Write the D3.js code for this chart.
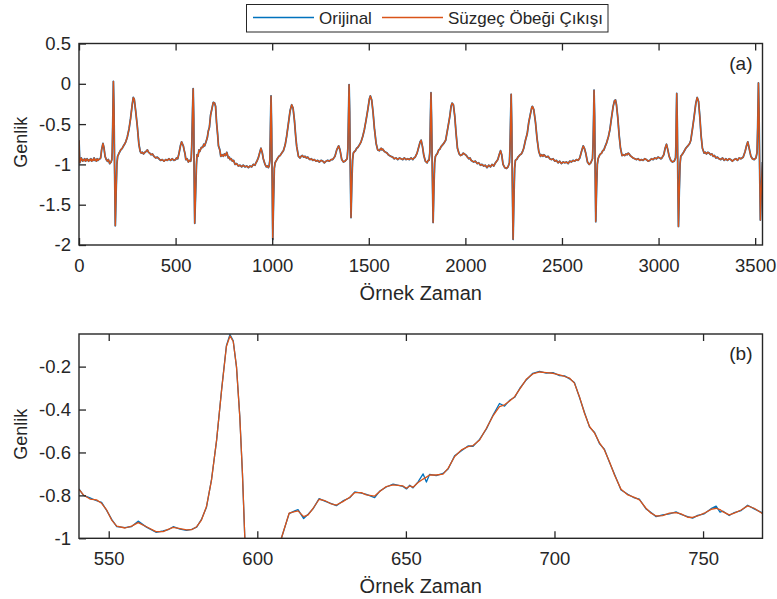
<!DOCTYPE html>
<html>
<head>
<meta charset="utf-8">
<script src="https://cdn.jsdelivr.net/npm/d3@7"></script>
<style>
  body { margin: 0; background: #fff; }
  svg { display: block; }
  text { font-family: "Liberation Sans", Arial, sans-serif; fill: #262626; }
</style>
</head>
<body>
<svg id="chart" width="777" height="599"></svg>
<script>
// Panel (a): full record, [sample, amplitude]
const ecgFull = [
  [0,-0.70],[4,-0.98],[8,-0.95],[12,-0.92],[15,-0.94],[19,-0.96],[22,-0.94],[26,-0.95],[30,-0.93],
  [34,-0.96],[38,-0.95],[42,-0.93],[46,-0.95],[50,-0.96],[54,-0.94],[58,-0.95],[62,-0.93],[66,-0.96],
  [70,-0.94],[74,-0.95],[78,-0.92],[82,-0.95],[86,-0.94],[90,-0.96],[94,-0.93],[98,-0.95],[102,-0.94],
  [108,-0.93],[112,-0.92],
  [117,-0.82],[124,-0.74],[129,-0.79],[135,-0.90],[141,-0.94],[147,-0.96],[152,-0.94],[159,-0.99],[166,-0.97],
  [170,-0.94],[172,-0.85],[175,-0.45],[178,0.03],[181,-0.30],[184,-1.00],[188,-1.76],[192,-1.35],
  [196,-1.00],[200,-0.90],[204,-0.88],[207,-0.86],[212,-0.84],[216,-0.82],[220,-0.81],[224,-0.80],
  [228,-0.78],[233,-0.76],[238,-0.74],[242,-0.72],[246,-0.69],[250,-0.66],
  [259,-0.56],[267,-0.43],[276,-0.25],[281,-0.17],[286,-0.19],[293,-0.33],[302,-0.53],[310,-0.75],
  [317,-0.84],[322,-0.86],[328,-0.85],[334,-0.87],[341,-0.85],[347,-0.84],[354,-0.82],[360,-0.85],
  [366,-0.86],[373,-0.88],[380,-0.87],[388,-0.90],[397,-0.92],[405,-0.91],[414,-0.93],[422,-0.95],
  [431,-0.94],[440,-0.96],[449,-0.94],[457,-0.95],[466,-0.93],[474,-0.95],[483,-0.93],[491,-0.95],
  [500,-0.94],[505,-0.92],[511,-0.93],[518,-0.86],[525,-0.77],
  [531,-0.72],[536,-0.75],[540,-0.77],[544,-0.82],[549,-0.87],[553,-0.94],[558,-0.94],[560,-0.93],
  [566,-0.97],[572,-0.95],[578,-0.96],[581,-0.92],[584,-0.75],[588,-0.31],[591,-0.06],[594,-0.43],
  [596,-1.10],[599,-1.73],[603,-1.40],[608,-1.00],[611,-0.88],[616,-0.90],[621,-0.82],[625,-0.84],
  [633,-0.79],[640,-0.79],[646,-0.75],[650,-0.77],[656,-0.73],[664,-0.67],[669,-0.59],[675,-0.54],
  [681,-0.39],[688,-0.31],[695,-0.23],[702,-0.24],[707,-0.28],[712,-0.48],[718,-0.64],[722,-0.77],
  [729,-0.82],[734,-0.90],[741,-0.88],[747,-0.90],[753,-0.87],[759,-0.89],[765,-0.85],[773,-0.92],
  [778,-0.91],[782,-0.94],[788,-0.93],[794,-0.96],[800,-0.95],[808,-1.00],[816,-0.99],[825,-1.02],
  [833,-1.01],[842,-1.03],[850,-1.01],[859,-1.03],[868,-1.02],[877,-1.04],[885,-1.02],[894,-1.03],
  [902,-1.00],[911,-1.01],[916,-0.98],[921,-0.96],[928,-0.92],[937,-0.84],[942,-0.80],[949,-0.86],[954,-0.93],[963,-1.00],
  [970,-1.03],[975,-1.02],[980,-1.04],[984,-1.02],[988,-0.95],[991,-0.55],[994,-0.15],[997,-0.55],[1000,-1.20],
  [1003,-1.93],[1007,-1.45],[1011,-1.05],[1015,-0.98],[1022,-0.95],[1029,-0.92],[1035,-0.90],[1041,-0.89],
  [1049,-0.86],[1058,-0.83],[1067,-0.76],[1075,-0.65],[1084,-0.49],[1093,-0.33],[1101,-0.26],
  [1108,-0.30],[1115,-0.45],[1122,-0.66],[1127,-0.78],[1136,-0.90],[1144,-0.92],[1150,-0.90],[1156,-0.89],
  [1163,-0.91],[1170,-0.90],[1177,-0.92],[1184,-0.91],[1190,-0.93],[1196,-0.94],[1203,-0.93],[1210,-0.95],
  [1218,-0.94],[1227,-0.96],[1235,-0.95],[1244,-0.97],[1253,-0.95],[1262,-0.96],[1270,-0.98],
  [1279,-0.96],[1287,-0.95],[1296,-0.96],[1305,-0.94],[1313,-0.94],[1319,-0.92],[1325,-0.90],[1334,-0.82],[1344,-0.77],[1351,-0.82],
  [1360,-0.94],[1369,-0.97],[1377,-0.96],[1388,-0.93],[1392,-0.80],[1395,-0.40],[1398,-0.01],
  [1401,-0.35],[1404,-1.00],[1408,-1.66],[1412,-1.25],[1416,-0.95],[1420,-0.86],[1426,-0.84],[1431,-0.83],
  [1437,-0.80],[1443,-0.79],[1451,-0.76],[1460,-0.72],[1469,-0.65],[1477,-0.57],[1486,-0.45],[1495,-0.32],
  [1503,-0.19],[1508,-0.15],[1515,-0.20],[1522,-0.35],[1529,-0.55],[1538,-0.74],[1546,-0.82],
  [1555,-0.83],[1560,-0.81],[1564,-0.80],[1568,-0.82],[1572,-0.81],[1581,-0.84],[1588,-0.85],[1595,-0.86],
  [1601,-0.88],[1607,-0.89],[1615,-0.90],[1624,-0.91],[1632,-0.93],[1641,-0.92],[1650,-0.94],[1659,-0.92],
  [1667,-0.93],[1676,-0.94],[1684,-0.92],[1693,-0.94],[1701,-0.93],[1710,-0.94],[1719,-0.92],[1728,-0.94],
  [1734,-0.92],[1740,-0.91],
  [1750,-0.86],[1759,-0.78],[1766,-0.72],[1771,-0.70],[1778,-0.78],[1785,-0.89],[1793,-0.96],
  [1802,-0.98],[1807,-0.95],[1812,-0.95],[1816,-0.85],[1819,-0.45],[1822,-0.11],[1825,-0.45],
  [1829,-1.10],[1833,-1.72],[1837,-1.30],[1841,-0.98],[1845,-0.90],[1850,-0.88],[1854,-0.87],[1862,-0.82],
  [1868,-0.81],[1874,-0.78],[1881,-0.76],[1888,-0.74],[1898,-0.70],[1909,-0.55],[1919,-0.41],[1926,-0.28],[1931,-0.24],
  [1938,-0.26],[1945,-0.40],[1952,-0.62],[1959,-0.80],[1968,-0.87],[1975,-0.89],[1983,-0.88],[1989,-0.86],[1995,-0.87],
  [2005,-0.89],[2011,-0.91],[2018,-0.93],[2024,-0.92],[2030,-0.95],[2037,-0.96],[2043,-0.97],[2052,-0.96],
  [2061,-0.99],[2069,-0.98],[2078,-1.01],[2086,-1.00],[2095,-1.02],[2103,-1.01],[2112,-1.04],[2121,-1.01],
  [2130,-1.03],[2138,-1.00],[2147,-1.02],[2153,-0.99],[2159,-0.97],[2168,-0.94],[2175,-0.88],[2182,-0.83],
  [2188,-0.88],[2195,-1.00],[2204,-1.04],[2213,-1.05],[2221,-1.03],[2228,-0.98],[2231,-0.80],
  [2234,-0.45],[2237,-0.13],[2240,-0.50],[2243,-1.20],[2247,-1.93],[2251,-1.45],[2255,-1.05],
  [2259,-0.95],[2264,-0.94],[2268,-0.93],[2272,-0.91],[2276,-0.90],[2283,-0.88],[2290,-0.87],[2296,-0.84],
  [2302,-0.80],[2311,-0.70],[2320,-0.62],
  [2328,-0.48],[2337,-0.37],[2344,-0.29],[2347,-0.28],[2354,-0.32],[2363,-0.48],[2371,-0.68],
  [2380,-0.84],[2389,-0.90],[2395,-0.88],[2401,-0.90],[2406,-0.88],[2411,-0.89],[2419,-0.91],[2428,-0.90],
  [2437,-0.93],[2446,-0.94],[2454,-0.93],[2463,-0.96],[2471,-0.95],[2480,-0.98],[2488,-0.96],[2497,-0.99],
  [2506,-0.97],[2515,-0.98],[2523,-0.97],[2532,-0.99],[2540,-0.96],[2549,-0.97],[2557,-0.95],[2566,-0.96],
  [2575,-0.94],[2584,-0.95],
  [2592,-0.92],[2601,-0.84],[2610,-0.77],[2616,-0.80],[2623,-0.86],[2632,-0.97],[2641,-1.00],
  [2649,-0.98],[2658,-0.93],[2661,-0.75],[2664,-0.40],[2666,-0.08],[2669,-0.40],[2672,-1.10],
  [2675,-1.71],[2679,-1.30],[2683,-1.00],[2687,-0.93],[2692,-0.90],[2696,-0.88],[2700,-0.87],[2705,-0.86],
  [2711,-0.83],[2717,-0.82],[2723,-0.78],[2730,-0.74],[2741,-0.65],[2748,-0.57],[2756,-0.43],[2765,-0.28],[2772,-0.21],[2777,-0.20],
  [2782,-0.26],[2789,-0.42],[2796,-0.64],[2803,-0.80],[2811,-0.89],[2818,-0.88],[2825,-0.89],[2831,-0.87],[2837,-0.88],
  [2843,-0.86],[2848,-0.87],[2853,-0.89],[2858,-0.90],[2863,-0.91],[2868,-0.92],[2877,-0.93],[2886,-0.94],
  [2894,-0.93],[2903,-0.95],[2911,-0.94],[2920,-0.95],[2928,-0.93],[2937,-0.94],[2946,-0.96],
  [2955,-0.95],[2963,-0.93],[2972,-0.94],[2980,-0.92],[2989,-0.93],[2997,-0.91],[3006,-0.92],[3012,-0.93],[3017,-0.92],[3022,-0.90],[3027,-0.88],[3034,-0.80],
  [3041,-0.75],[3048,-0.82],[3055,-0.90],[3063,-0.95],[3072,-0.97],[3081,-0.96],[3088,-0.92],
  [3090,-0.75],[3092,-0.40],[3094,-0.12],[3097,-0.50],[3100,-1.20],[3103,-1.77],[3107,-1.35],
  [3111,-1.00],[3115,-0.90],[3121,-0.88],[3127,-0.86],[3134,-0.83],[3141,-0.80],[3148,-0.78],[3155,-0.76],
  [3161,-0.74],[3167,-0.70],[3176,-0.55],
  [3184,-0.41],[3193,-0.24],[3200,-0.17],[3207,-0.22],[3214,-0.42],[3220,-0.64],[3227,-0.80],
  [3236,-0.86],[3242,-0.85],[3248,-0.87],[3255,-0.85],[3262,-0.86],[3269,-0.88],[3276,-0.87],[3283,-0.90],
  [3289,-0.89],[3297,-0.92],[3305,-0.91],[3313,-0.93],[3322,-0.94],[3331,-0.92],[3340,-0.95],[3348,-0.93],
  [3357,-0.95],[3365,-0.93],[3374,-0.94],[3382,-0.96],[3391,-0.94],[3400,-0.93],[3409,-0.95],[3417,-0.92],
  [3426,-0.93],[3432,-0.92],[3438,-0.91],
  [3448,-0.84],[3455,-0.77],[3462,-0.72],[3469,-0.80],[3478,-0.90],[3486,-0.93],[3495,-0.94],
  [3504,-0.92],[3510,-0.85],[3513,-0.55],[3517,0.01],[3520,-0.35],[3523,-1.00],[3527,-1.69],
  [3532,-1.30],[3538,-0.97]
]

// Panel (b): zoom on samples 540..770
const zoomSample = [
  540,541.5,543.7,545.9,547.6,549.3,551,552.7,555.5,557.7,559.9,562.7,565.9,568.3,570,571.7,574,
  576.2,577.9,579.6,581.2,582.9,584.6,586.3,588,589.6,590.8,591.9,593,594.1,595,595.8,597,599,601,
  603,605,607,608.1,610.7,612.6,613.7,615.6,617.1,618.8,620.8,622.7,624.9,626.6,628.8,631.1,632.8,
  635,636.7,639.5,641.2,643.4,645.7,649,650.2,651.3,652.4,654.1,655.8,656.9,658,660.2,662.5,664.2,
  666.4,668.7,670.9,672.6,674.8,677.1,679.3,681.5,683.2,684.9,686.6,688.3,690.5,692.7,695,697.2,
  699.5,701.7,703.4,705.1,706.7,708.4,710.1,711.8,713.5,715.2,716.8,718.5,720.2,722.4,724.7,726.9,
  728.6,730.8,732.5,734.2,736.4,738.7,740.9,742.6,744.8,746.5,748.2,750.4,752.7,754.4,755.7,756.6,
  758.8,760.5,762.8,765,767.2,769.8,770
]
const zoomFiltered = [
  -0.772,-0.798,-0.817,-0.821,-0.837,-0.868,-0.915,-0.943,-0.952,-0.943,-0.927,-0.946,-0.969,-0.969,
  -0.958,-0.949,-0.955,-0.961,-0.960,-0.946,-0.915,-0.852,-0.728,-0.542,-0.308,-0.106,-0.057,-0.083,
  -0.200,-0.433,-0.697,-1.000,-1.350,-1.730,-1.600,-1.400,-1.250,-1.080,-1.000,-0.883,-0.876,-0.872,
  -0.899,-0.891,-0.860,-0.818,-0.824,-0.840,-0.845,-0.829,-0.809,-0.787,-0.787,-0.798,-0.803,-0.782,
  -0.759,-0.751,-0.756,-0.767,-0.756,-0.762,-0.740,-0.724,-0.715,-0.705,-0.705,-0.701,-0.674,-0.619,
  -0.588,-0.573,-0.568,-0.542,-0.487,-0.430,-0.386,-0.378,-0.360,-0.340,-0.305,-0.259,-0.234,-0.225,
  -0.228,-0.231,-0.239,-0.246,-0.254,-0.277,-0.340,-0.417,-0.479,-0.510,-0.557,-0.588,-0.643,-0.705,
  -0.772,-0.798,-0.809,-0.821,-0.860,-0.883,-0.896,-0.894,-0.883,-0.880,-0.886,-0.902,-0.903,-0.896,
  -0.883,-0.865,-0.860,-0.866,-0.876,-0.891,-0.883,-0.868,-0.849,-0.860,-0.883,-0.885
]
const zoomOriginal = [
  -0.770,-0.800,-0.812,-0.825,-0.833,-0.870,-0.912,-0.946,-0.950,-0.945,-0.920,-0.948,-0.972,-0.966,
  -0.960,-0.946,-0.957,-0.963,-0.958,-0.948,-0.912,-0.855,-0.725,-0.545,-0.305,-0.103,-0.050,-0.080,
  -0.203,-0.430,-0.700,-1.000,-1.350,-1.740,-1.600,-1.400,-1.250,-1.080,-1.000,-0.885,-0.872,-0.866,
  -0.908,-0.888,-0.862,-0.815,-0.827,-0.838,-0.848,-0.826,-0.811,-0.784,-0.790,-0.795,-0.810,-0.780,
  -0.761,-0.748,-0.758,-0.770,-0.753,-0.765,-0.737,-0.700,-0.738,-0.702,-0.708,-0.698,-0.677,-0.616,
  -0.592,-0.570,-0.571,-0.539,-0.490,-0.427,-0.372,-0.384,-0.357,-0.343,-0.302,-0.262,-0.231,-0.222,
  -0.230,-0.228,-0.242,-0.243,-0.257,-0.274,-0.343,-0.414,-0.482,-0.507,-0.560,-0.585,-0.646,-0.702,
  -0.775,-0.795,-0.812,-0.818,-0.863,-0.880,-0.899,-0.891,-0.886,-0.877,-0.889,-0.899,-0.906,-0.893,
  -0.886,-0.862,-0.850,-0.878,-0.873,-0.894,-0.880,-0.871,-0.846,-0.863,-0.880,-0.886
]

const legendLabels = ["Orijinal", "Süzgeç Öbeği Çıkışı"]
const colors = ["#0072BD", "#D95319"]

const ticksA_x = [0, 500, 1000, 1500, 2000, 2500, 3000, 3500]
const ticksA_y = [0.5, 0, -0.5, -1, -1.5, -2]
const ticksB_x = [550, 600, 650, 700, 750]
const ticksB_y = [-1, -0.8, -0.6, -0.4, -0.2]

const ink = "#262626"
const svg = d3.select("#chart")

function drawPanel(opts) {
  const {top, bottom, left, right, xDomain, yDomain, xTicks, yTicks, series, tag, id} = opts

  const x = d3.scaleLinear().domain(xDomain).range([left, right])
  const y = d3.scaleLinear().domain(yDomain).range([bottom, top])

  svg.append("clipPath")
      .attr("id", id)
    .append("rect")
      .attr("x", left)
      .attr("y", top)
      .attr("width", right - left)
      .attr("height", bottom - top)

  const line = d3.line()
      .x(d => x(d[0]))
      .y(d => y(d[1]))

  const plot = svg.append("g").attr("clip-path", `url(#${id})`)
  series.forEach(s => {
    plot.append("path")
        .datum(s.data)
        .attr("d", line)
        .attr("fill", "none")
        .attr("stroke", s.color)
        .attr("stroke-width", s.width)
        .attr("stroke-linejoin", "round")
  })

  // ticks point inward, mirrored on the top edge
  const styleAxis = g => {
    g.select(".domain").remove()
    g.selectAll(".tick line").attr("stroke", ink).attr("stroke-width", 1.3)
    g.selectAll(".tick text")
        .attr("fill", ink)
        .style("font-size", "18.5px")
        .style("font-family", "'Liberation Sans', Arial, sans-serif")
  }

  svg.append("g")
      .attr("transform", `translate(0,${bottom})`)
      .call(d3.axisBottom(x).tickValues(xTicks).tickSize(-7).tickPadding(14).tickFormat(d => String(d)))
      .call(styleAxis)

  svg.append("g")
      .attr("transform", `translate(0,${top})`)
      .call(d3.axisTop(x).tickValues(xTicks).tickSize(-7).tickFormat(""))
      .call(styleAxis)

  svg.append("g")
      .attr("transform", `translate(${left},0)`)
      .call(d3.axisLeft(y).tickValues(yTicks).tickSize(-7).tickPadding(8).tickFormat(d => String(d)))
      .call(styleAxis)

  svg.append("rect")
      .attr("x", left)
      .attr("y", top)
      .attr("width", right - left)
      .attr("height", bottom - top)
      .attr("fill", "none")
      .attr("stroke", ink)
      .attr("stroke-width", 1.4)

  svg.append("text")
      .attr("x", (left + right) / 2)
      .attr("y", bottom + 54.5)
      .attr("text-anchor", "middle")
      .style("font-size", "20px")
      .text("Örnek Zaman")

  svg.append("text")
      .attr("transform", `translate(27,${(top + bottom) / 2 - 2}) rotate(-90)`)
      .attr("text-anchor", "middle")
      .style("font-size", "18px")
      .text("Genlik")

  svg.append("text")
      .attr("x", right - 10)
      .attr("y", top + 26)
      .attr("text-anchor", "end")
      .style("font-size", "19px")
      .text(tag)
}

drawPanel({
  id: "clipA", top: 43.5, bottom: 245, left: 79, right: 762.5,
  xDomain: [0, 3538], yDomain: [-2, 0.5],
  xTicks: ticksA_x, yTicks: ticksA_y, tag: "(a)",
  series: [
    {data: ecgFull, color: colors[0], width: 1.8},
    {data: ecgFull, color: colors[1], width: 1.4}
  ]
})

drawPanel({
  id: "clipB", top: 334, bottom: 538.3, left: 79, right: 762.5,
  xDomain: [540, 770], yDomain: [-1, -0.048],
  xTicks: ticksB_x, yTicks: ticksB_y, tag: "(b)",
  series: [
    {data: d3.zip(zoomSample, zoomOriginal), color: colors[0], width: 1.3},
    {data: d3.zip(zoomSample, zoomFiltered), color: colors[1], width: 1.3}
  ]
})

// Legend
const legend = svg.append("g")
legend.append("rect")
    .attr("x", 246.5)
    .attr("y", 4.5)
    .attr("width", 361.5)
    .attr("height", 27.5)
    .attr("fill", "#fff")
    .attr("stroke", ink)
    .attr("stroke-width", 1)

const legendX = [253, 382]
legendLabels.forEach((label, i) => {
  legend.append("line")
      .attr("x1", legendX[i])
      .attr("x2", legendX[i] + 61)
      .attr("y1", 17.5)
      .attr("y2", 17.5)
      .attr("stroke", colors[i])
      .attr("stroke-width", 1.3)
  legend.append("text")
      .attr("x", legendX[i] + 66)
      .attr("y", 24)
      .style("font-size", "17px")
      .text(label)
})
</script>
</body>
</html>
